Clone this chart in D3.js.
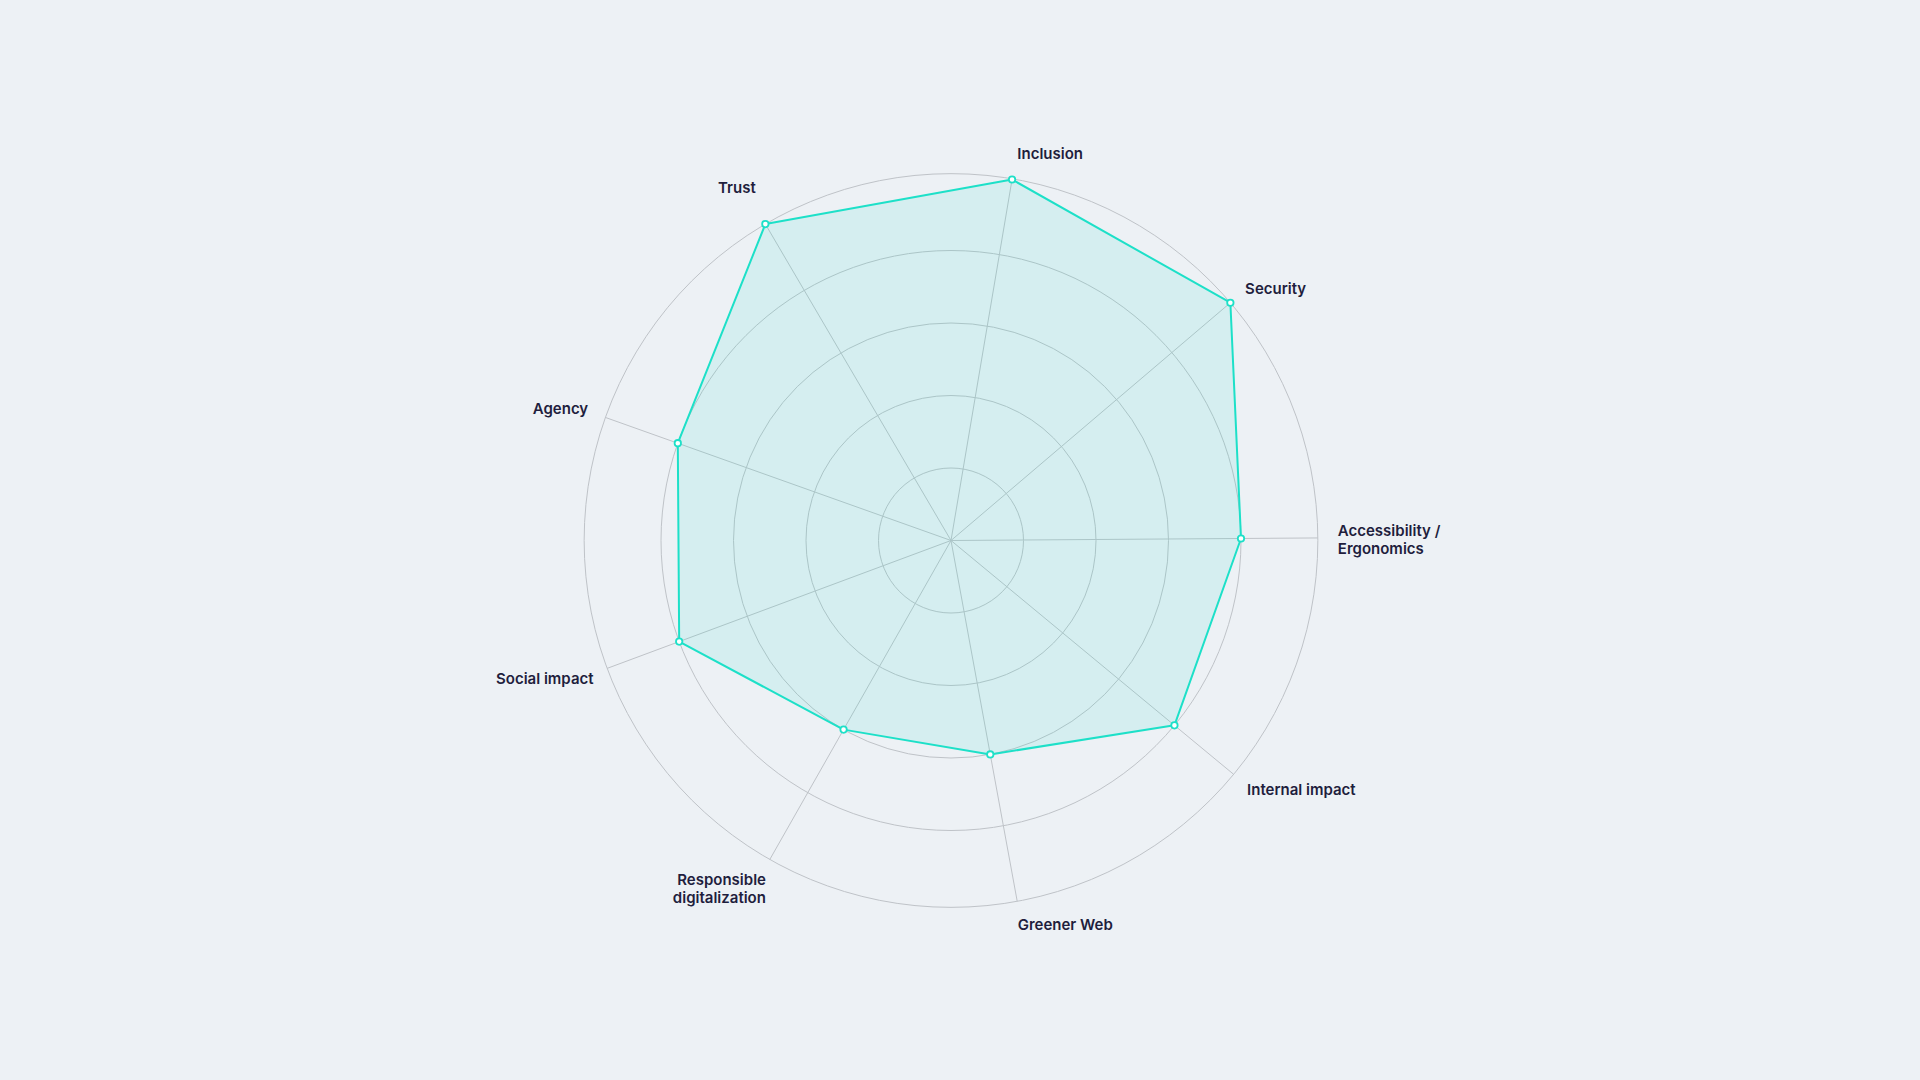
<!DOCTYPE html>
<html>
<head>
<meta charset="utf-8">
<script src="https://cdn.jsdelivr.net/npm/d3@7"></script>
<style>
  html, body { margin: 0; padding: 0; background: #edf1f5; }
  #chart svg { display: block; }
  .label { font-family: Inter, "Noto Sans", sans-serif; font-weight: 600; font-size: 15px; fill: #1f1e3d; }
</style>
</head>
<body>
<div id="chart"></div>
<script>
// axes, clockwise from the top
const categories = ["Inclusion", "Security", "Accessibility / Ergonomics", "Internal impact",
    "Greener Web", "Responsible digitalization", "Social impact", "Agency", "Trust"]
// how the labels wrap
const labelLines = [["Inclusion"], ["Security"], ["Accessibility /", "Ergonomics"], ["Internal impact"],
    ["Greener Web"], ["Responsible", "digitalization"], ["Social impact"], ["Agency"], ["Trust"]]
// scores
const scores = [5.05, 5.06, 4, 4, 3, 3, 4, 4, 5.06]
const ringLevels = [1, 2, 3, 4]
const maxLevel = 5.06

// ----------------------------------------------------------

var width = 1920, height = 1080
var cx = 951, cy = 540.5
var startAngle = 9.6 * Math.PI / 180

// small hand nudges so labels sit like the original
var labelNudge = [[1.5, -4], [-2, 0.5], [-2, 1.5], [-3.5, 1], [-3.5, 2], [7, 10], [7, 2.5], [3.5, -1.5], [1.5, -17.5]]

var svg = d3.select("#chart")
    .append("svg")
    .attr("width", width)
    .attr("height", height)

const g = svg.append("g")
    .attr("transform", "translate(" + cx + "," + cy + ")")

var r = d3.scaleLinear().domain([0, 5]).range([0, 362.5])

var angle = d3.scalePoint()
    .domain(categories)
    .range([0, 2 * Math.PI * (categories.length - 1) / categories.length])
// shift every axis by the start angle
const a = function(c) { return angle(c) + startAngle }

const px = function(c, v) { return r(v) * Math.sin(a(c)) }
const py = function(c, v) { return -r(v) * Math.cos(a(c)) }

// grid rings
const gridGroup = g.append("g").attr("id", "grid")
gridGroup.selectAll("circle.ring")
    .data(ringLevels.concat([maxLevel]))
    .enter()
    .append("circle")
    .attr("class", "ring")
    .attr("r", d => r(d))
    .attr("fill", "none")
    .attr("stroke", "#bfc3c8")
    .attr("stroke-width", 1)

// spokes
gridGroup.selectAll("line")
    .data(categories)
    .enter()
    .append("line")
    .attr("x1", 0).attr("y1", 0)
    .attr("x2", d => px(d, maxLevel))
    .attr("y2", d => py(d, maxLevel))
    .attr("stroke", "#bfc3c8")
    .attr("stroke-width", 1)

// the shape
var radar = d3.lineRadial()
    .angle((d, i) => a(categories[i]))
    .radius(d => r(d))
    .curve(d3.curveLinearClosed)

g.append("path")
    .datum(scores)
    .attr("d", radar)
    .attr("fill", "rgba(22, 222, 200, 0.11)")
    .attr("stroke", "#1de0c8")
    .attr("stroke-width", 2)
    .attr("stroke-linejoin", "round")

g.selectAll("circle.dot")
    .data(scores)
    .enter()
    .append("circle")
    .attr("class", "dot")
    .attr("cx", (d, i) => px(categories[i], d))
    .attr("cy", (d, i) => py(categories[i], d))
    .attr("r", 3.2)
    .attr("fill", "#ffffff")
    .attr("stroke", "#1de0c8")
    .attr("stroke-width", 1.8)

// labels
var labelR = r(maxLevel) + 22
var lineH = 18.5

const labels = g.selectAll("text.label")
    .data(categories)
    .enter()
    .append("text")
    .attr("class", "label")
    .attr("text-anchor", d => {
        let s = Math.sin(a(d))
        if (s > 0.1) return "start"
        if (s < -0.1) return "end"
        return "middle"
    })
    .attr("transform", (d, i) => {
        let x = labelR * Math.sin(a(d)) + labelNudge[i][0]
        let y = -labelR * Math.cos(a(d)) + labelNudge[i][1]
        return "translate(" + x + "," + y + ")"
    })

labels.each(function(d, i) {
    let lines = labelLines[i]
    let first = 5.5 - (lines.length - 1) * lineH / 2
    d3.select(this).selectAll("tspan")
        .data(lines)
        .enter()
        .append("tspan")
        .attr("x", 0)
        .attr("y", (t, j) => first + j * lineH)
        .text(t => t)
})
</script>
</body>
</html>
